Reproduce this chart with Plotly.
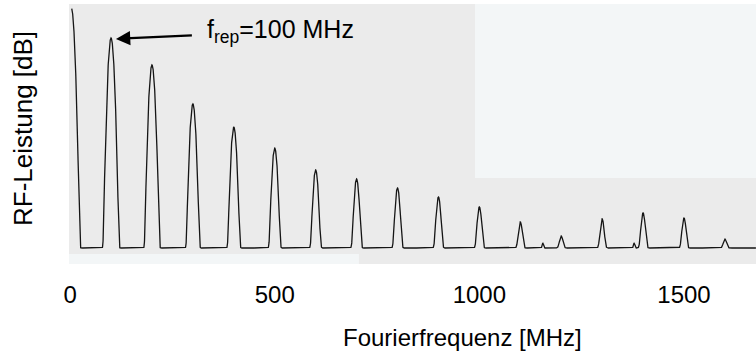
import numpy as np
import plotly.graph_objects as go

# ---- data ----
peak_freq_mhz = [3, 100, 200, 300, 400, 500, 600, 700, 800, 900, 1000, 1100, 1200, 1300, 1400, 1500, 1600]
peak_level_db = [0, -10, -19, -32, -39.7, -46.7, -54, -57, -60, -63, -66.3, -71.3, -76, -70.3, -68.3, -70, -77]
spur_freq_mhz = [1155, 1378]
spur_level_db = [-78.3, -78.3]
noise_floor_db = -80
x_tick_vals = [0, 500, 1000, 1500]
x_tick_text = ["0", "500", "1000", "1500"]

# ---- build spectrum trace from the peak list ----
f = np.arange(4.0, 1676.0, 0.2)
floor_lin = 10 ** (noise_floor_db / 10)
lin = np.full_like(f, floor_lin)
for f0, L in zip(peak_freq_mhz, peak_level_db):
    amp = max(10 ** (L / 10) - floor_lin, 1e-12)
    lin += amp * np.exp(-((f - f0) ** 2) / (2 * 3.4 ** 2))
for f0, L in zip(spur_freq_mhz, spur_level_db):
    amp = max(10 ** (L / 10) - floor_lin, 1e-12)
    lin += amp * np.exp(-((f - f0) ** 2) / (2 * 1.5 ** 2))
spec_db = 10 * np.log10(lin)

FONT = "Liberation Sans, Arial, sans-serif"

fig = go.Figure()
fig.add_trace(go.Scatter(x=f, y=spec_db, mode="lines",
                         line=dict(color="#151515", width=1.3),
                         hoverinfo="skip", showlegend=False))

fig.update_layout(
    width=756, height=353,
    margin=dict(l=69, r=0, t=4, b=89),
    paper_bgcolor="white",
    plot_bgcolor="#ebebeb",
    font=dict(family=FONT, color="black"),
    xaxis=dict(range=[-2.7, 1676], showgrid=False, zeroline=False, showline=False,
               ticks="", tickvals=x_tick_vals, ticktext=x_tick_text,
               tickfont=dict(size=24, family=FONT, color="black"),
               ticklabelstandoff=14, fixedrange=True),
    yaxis=dict(range=[-85.33, 1.33], showgrid=False, zeroline=False, showline=False,
               showticklabels=False, ticks="", fixedrange=True),
    shapes=[
        dict(type="rect", xref="paper", yref="paper", x0=0.591, x1=1, y0=0.331, y1=1,
             fillcolor="#f3f6f7", line=dict(width=0), layer="below"),
        dict(type="rect", xref="paper", yref="paper", x0=0, x1=0.422, y0=0, y1=0.038,
             fillcolor="#f3f6f7", line=dict(width=0), layer="below"),
    ],
    annotations=[
        dict(text="Fourierfrequenz [MHz]", xref="paper", yref="paper",
             x=(462 - 69) / 687, y=(264 - 338) / 260, xanchor="center", yanchor="middle",
             showarrow=False, font=dict(size=24, family=FONT, color="black")),
        dict(text="RF-Leistung [dB]", xref="paper", yref="paper",
             x=(23 - 69) / 687, y=(264 - 129) / 260, xanchor="center", yanchor="middle",
             textangle=-90, showarrow=False, font=dict(size=26, family=FONT, color="black")),
        dict(text="f<sub>rep</sub>=100 MHz", xref="x", yref="y",
             x=112, y=-10.3, axref="x", ayref="y", ax=515, ay=-7.7,
             xanchor="center", yanchor="middle",
             showarrow=True, arrowhead=2, arrowsize=1.3, arrowwidth=2.2,
             arrowcolor="black", standoff=0, startstandoff=14,
             font=dict(size=25, family=FONT, color="black")),
    ],
)

fig.write_html("out.html")
